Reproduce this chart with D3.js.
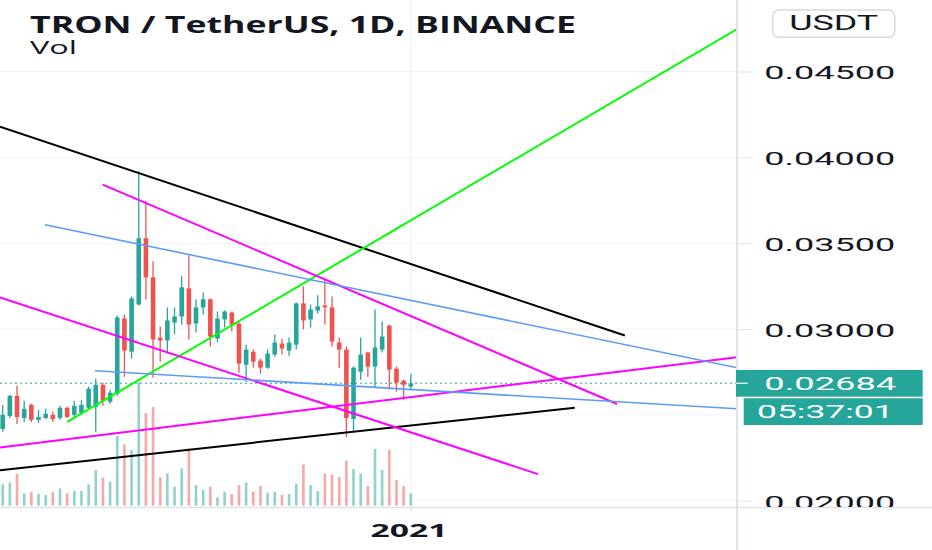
<!DOCTYPE html>
<html><head><meta charset="utf-8">
<script src="https://cdn.jsdelivr.net/npm/d3@7"></script>
<style>
html,body{margin:0;padding:0;background:#fff;overflow:hidden;}
svg{display:block;}
</style></head>
<body>
<svg id="chart" width="932" height="550"></svg>
<script>
// ---------- data ----------
const chartTitle = "TRON / TetherUS, 1D, BINANCE";
const volumeTitle = "Vol";
const currencyLabel = "USDT";
const countdownLabel = "05:37:01";
const firstDay = new Date(2020, 10, 5);   // 5 Nov 2020
const lastDay = new Date(2021, 0, 1);     // 1 Jan 2021
const yearTickLabel = "2021";

const openPrices = [
  0.02418,0.02494,0.02611,0.02482,0.02558,0.02471,0.02482,0.02500,0.02482,0.02541,
  0.02500,0.02512,0.02541,0.02547,0.02675,0.02576,0.02623,0.03061,0.02868,0.03143,
  0.03529,0.03301,0.02950,0.02933,0.03038,0.03073,0.03237,0.03032,0.03126,0.03173,
  0.02944,0.03056,0.03096,0.03032,0.02792,0.02868,0.02816,0.02775,0.02851,0.02915,
  0.02874,0.02909,0.03149,0.03056,0.03108,0.03137,0.03126,0.02921,0.02880,0.02476,
  0.02751,0.02863,0.02781,0.02880,0.03020,0.02769,0.02699,0.02664];
const highPrices = [
  0.02558,0.02617,0.02670,0.02582,0.02564,0.02529,0.02535,0.02518,0.02553,0.02547,
  0.02582,0.02588,0.02664,0.02711,0.02687,0.02646,0.03079,0.03085,0.03190,0.03921,
  0.03746,0.03395,0.03015,0.03126,0.03126,0.03307,0.03430,0.03173,0.03213,0.03178,
  0.03102,0.03108,0.03102,0.03038,0.02909,0.02880,0.02827,0.02880,0.02968,0.02944,
  0.02950,0.03155,0.03249,0.03143,0.03196,0.03289,0.03190,0.02950,0.02898,0.02781,
  0.02950,0.02868,0.03114,0.03044,0.03026,0.02781,0.02705,0.02740];
const lowPrices = [
  0.02401,0.02482,0.02447,0.02459,0.02459,0.02453,0.02476,0.02459,0.02471,0.02482,
  0.02488,0.02500,0.02535,0.02401,0.02553,0.02564,0.02611,0.02722,0.02827,0.03137,
  0.03173,0.02716,0.02810,0.02863,0.02968,0.03026,0.02939,0.02980,0.03085,0.02898,
  0.02921,0.03009,0.02985,0.02746,0.02693,0.02775,0.02740,0.02769,0.02839,0.02851,
  0.02845,0.02880,0.02997,0.03009,0.03091,0.03026,0.02898,0.02775,0.02371,0.02406,
  0.02705,0.02722,0.02658,0.02863,0.02646,0.02634,0.02588,0.02646];
const closePrices = [
  0.02500,0.02611,0.02488,0.02535,0.02471,0.02488,0.02506,0.02476,0.02541,0.02488,
  0.02553,0.02558,0.02652,0.02675,0.02582,0.02629,0.03067,0.02874,0.03178,0.03529,
  0.03301,0.02939,0.02933,0.03050,0.03073,0.03243,0.03026,0.03126,0.03173,0.02956,
  0.03061,0.03102,0.03026,0.02798,0.02880,0.02810,0.02775,0.02857,0.02921,0.02886,
  0.02921,0.03149,0.03050,0.03114,0.03132,0.03126,0.02927,0.02880,0.02482,0.02775,
  0.02851,0.02781,0.02892,0.02956,0.02763,0.02687,0.02675,0.02684];
// volume, millions TRX
const volumes = [
  426,460,634,246,274,234,214,274,346,246,
  294,294,426,714,560,480,1400,1226,1114,2474,
  1854,1974,566,646,380,746,1146,414,314,380,
  166,280,234,414,466,280,394,260,280,214,
  234,440,826,414,294,646,620,574,900,734,
  646,394,1134,714,1114,514,394,246];

const priceTicks = [0.020, 0.025, 0.030, 0.035, 0.040, 0.045];

// drawn trend lines: [barIndex, price] start and end
const blackUpperLine = [[-0.38, 0.04178], [86.9, 0.02962]];
const blackLowerLine = [[-0.38, 0.02178], [79.9, 0.02541]];
const greenLine      = [[9.0, 0.02459], [103.5, 0.04770]];
const magentaUpper   = [[13.97, 0.03841], [85.8, 0.02563]];
const magentaMiddle  = [[-0.38, 0.03184], [74.76, 0.02155]];
const magentaRising  = [[-0.38, 0.02310], [103.5, 0.02841]];
const blueUpper      = [[5.91, 0.03607], [103.5, 0.02766]];
const blueLower      = [[12.89, 0.02757], [103.5, 0.02533]];

// ---------- drawing ----------
const dates = d3.timeDay.range(firstDay, d3.timeDay.offset(lastDay, 1));
const bars = dates.map((d, i) => ({
  i, date: d, o: openPrices[i], h: highPrices[i], l: lowPrices[i], c: closePrices[i], v: volumes[i]
}));

const UP = "#26a69a", DOWN = "#ef5350";
const plotRight = 737, plotBottom = 507.5;

const svg = d3.select("#chart");
const x = d3.scaleLinear().domain([0, bars.length - 1]).range([2.7, 410.8]);
const y = d3.scaleLinear().domain([0.020, 0.045]).range([500.7, 71.5]);
const yv = d3.scaleLinear().domain([0, 2600]).range([505.7, 375.7]);

svg.append("defs").append("clipPath").attr("id", "plotClip")
  .append("rect").attr("x", 0).attr("y", 0).attr("width", plotRight).attr("height", plotBottom);
svg.select("defs").append("clipPath").attr("id", "axisClip")
  .append("rect").attr("x", plotRight).attr("y", 0).attr("width", 932 - plotRight).attr("height", plotBottom);

const plot = svg.append("g").attr("clip-path", "url(#plotClip)");

// grid
plot.append("g").selectAll("line").data(priceTicks).join("line")
  .attr("x1", 0).attr("x2", plotRight)
  .attr("y1", d => y(d)).attr("y2", d => y(d))
  .attr("stroke", "#f0f3fa").attr("stroke-width", 1);

const yearIndex = bars.findIndex(b => b.date.getFullYear() === 2021 && b.date.getMonth() === 0 && b.date.getDate() === 1);
plot.append("line")
  .attr("x1", x(yearIndex)).attr("x2", x(yearIndex))
  .attr("y1", 0).attr("y2", plotBottom)
  .attr("stroke", "#f0f3fa").attr("stroke-width", 1.5);

// volume
plot.append("g").selectAll("rect").data(bars).join("rect")
  .attr("x", d => x(d.i) - 1.3).attr("width", 2.6)
  .attr("y", d => yv(d.v)).attr("height", d => yv(0) - yv(d.v))
  .attr("fill", d => d.c >= d.o ? UP : DOWN).attr("fill-opacity", 0.5);

// last price dotted line
const last = bars[bars.length - 1];
plot.append("line")
  .attr("x1", 0).attr("x2", plotRight)
  .attr("y1", y(last.c)).attr("y2", y(last.c))
  .attr("stroke", UP).attr("stroke-width", 1.2).attr("stroke-dasharray", "2,3");

// candles
const candle = plot.append("g").selectAll("g").data(bars).join("g");
candle.append("line")
  .attr("x1", d => x(d.i)).attr("x2", d => x(d.i))
  .attr("y1", d => y(d.h)).attr("y2", d => y(d.l))
  .attr("stroke", d => d.c >= d.o ? UP : DOWN).attr("stroke-width", 1.3);
candle.append("rect")
  .attr("x", d => x(d.i) - 2.3).attr("width", 4.6)
  .attr("y", d => y(Math.max(d.o, d.c)))
  .attr("height", d => Math.max(1.2, Math.abs(y(d.o) - y(d.c))))
  .attr("fill", d => d.c >= d.o ? UP : DOWN);

// trend lines
const lines = [
  {pts: blackUpperLine, color: "#000000", w: 2},
  {pts: blackLowerLine, color: "#000000", w: 2},
  {pts: greenLine, color: "#00ff00", w: 2},
  {pts: magentaUpper, color: "#ff00ff", w: 2},
  {pts: magentaMiddle, color: "#ff00ff", w: 2},
  {pts: magentaRising, color: "#ff00ff", w: 2},
  {pts: blueUpper, color: "#5b9cf6", w: 1.6},
  {pts: blueLower, color: "#5b9cf6", w: 1.6}
];
const lineGen = d3.line().x(p => x(p[0])).y(p => y(p[1]));
plot.append("g").selectAll("path").data(lines).join("path")
  .attr("d", d => lineGen(d.pts))
  .attr("fill", "none").attr("stroke", d => d.color).attr("stroke-width", d => d.w)
  .attr("stroke-linecap", "butt");

// frame lines
svg.append("line").attr("x1", 0).attr("x2", 932).attr("y1", plotBottom).attr("y2", plotBottom)
  .attr("stroke", "#e0e3eb").attr("stroke-width", 1.5);
svg.append("line").attr("x1", plotRight).attr("x2", plotRight).attr("y1", 0).attr("y2", 550)
  .attr("stroke", "#dfe3ee").attr("stroke-width", 2);

// price axis
const yLast = y(last.c);
const labelTicks = priceTicks.filter(t => !(y(t) > yLast - 25 && y(t) < yLast + 55));
const yAxis = d3.axisRight(y).tickValues(labelTicks).tickFormat(d3.format(".5f")).tickSize(15).tickSizeOuter(0);
const ag = svg.append("g").attr("transform", `translate(${plotRight},0)`)
  .attr("clip-path", "url(#axisClipLocal)");
svg.select("defs").append("clipPath").attr("id", "axisClipLocal")
  .append("rect").attr("x", 0).attr("y", 0).attr("width", 200).attr("height", plotBottom - 0.5);
ag.call(yAxis);
ag.select(".domain").remove();
ag.selectAll(".tick line").attr("stroke", "#e0e3eb").attr("stroke-width", 1);
ag.selectAll(".tick text")
  .attr("x", 27.3).attr("dy", null).attr("y", 7.4)
  .attr("fill", "#131722")
  .style("font-family", "Roboto, 'Liberation Sans', sans-serif")
  .style("font-size", "18.5px")
  .attr("textLength", 131).attr("lengthAdjust", "spacingAndGlyphs");

// currency button
svg.append("rect").attr("x", 772.7).attr("y", 10).attr("width", 122).attr("height", 27.3)
  .attr("rx", 6).attr("fill", "#fff").attr("stroke", "#d6d9e0").attr("stroke-width", 1.5);
svg.append("text").attr("x", 833.7).attr("y", 29.5).attr("text-anchor", "middle")
  .attr("fill", "#131722").style("font-family", "Roboto, 'Liberation Sans', sans-serif")
  .style("font-size", "19.5px").attr("textLength", 89).attr("lengthAdjust", "spacingAndGlyphs")
  .text(currencyLabel);

// last price label
svg.append("rect").attr("x", 736).attr("y", yLast - 13.3).attr("width", 186.7).attr("height", 26.7).attr("fill", UP);
svg.append("line").attr("x1", 736).attr("x2", 747.7).attr("y1", yLast).attr("y2", yLast)
  .attr("stroke", "#fff").attr("stroke-width", 1.2);
svg.append("text").attr("x", 764.3).attr("y", yLast + 6.8)
  .attr("fill", "#fff").style("font-family", "Roboto, 'Liberation Sans', sans-serif")
  .style("font-size", "18.5px").attr("textLength", 132).attr("lengthAdjust", "spacingAndGlyphs")
  .text(d3.format(".5f")(last.c));
svg.append("rect").attr("x", 743.7).attr("y", yLast + 15).attr("width", 179).attr("height", 26.7).attr("fill", UP);
svg.append("text").attr("x", 757).attr("y", yLast + 35)
  .attr("fill", "#fff").style("font-family", "Roboto, 'Liberation Sans', sans-serif")
  .style("font-size", "18.5px").attr("textLength", 136.7).attr("lengthAdjust", "spacingAndGlyphs")
  .text(countdownLabel);

// time axis
const xAxis = d3.axisBottom(x).tickValues([yearIndex]).tickFormat(() => yearTickLabel).tickSize(4).tickSizeOuter(0);
const xg = svg.append("g").attr("transform", `translate(0,${plotBottom})`).call(xAxis);
xg.select(".domain").remove();
xg.selectAll(".tick line").attr("stroke", "#e0e3eb").attr("stroke-width", 1.5);
xg.selectAll(".tick text")
  .attr("x", -2.3).attr("y", 29.2).attr("dy", null)
  .attr("fill", "#131722")
  .style("font-family", "'Open Sans', 'DejaVu Sans', sans-serif")
  .style("font-weight", "700").style("font-size", "17px")
  .attr("textLength", 77).attr("lengthAdjust", "spacingAndGlyphs");

// titles
svg.append("text").attr("x", 30).attr("y", 32.6)
  .attr("fill", "#131722").style("font-family", "'Open Sans', 'DejaVu Sans', sans-serif")
  .style("font-weight", "700").style("font-size", "24px")
  .attr("textLength", 546).attr("lengthAdjust", "spacingAndGlyphs")
  .text(chartTitle);
svg.append("text").attr("x", 30).attr("y", 53.6)
  .attr("fill", "#131722").style("font-family", "'Open Sans', 'DejaVu Sans', sans-serif")
  .style("font-size", "19px")
  .attr("textLength", 47).attr("lengthAdjust", "spacingAndGlyphs")
  .text(volumeTitle);
</script>
</body></html>
